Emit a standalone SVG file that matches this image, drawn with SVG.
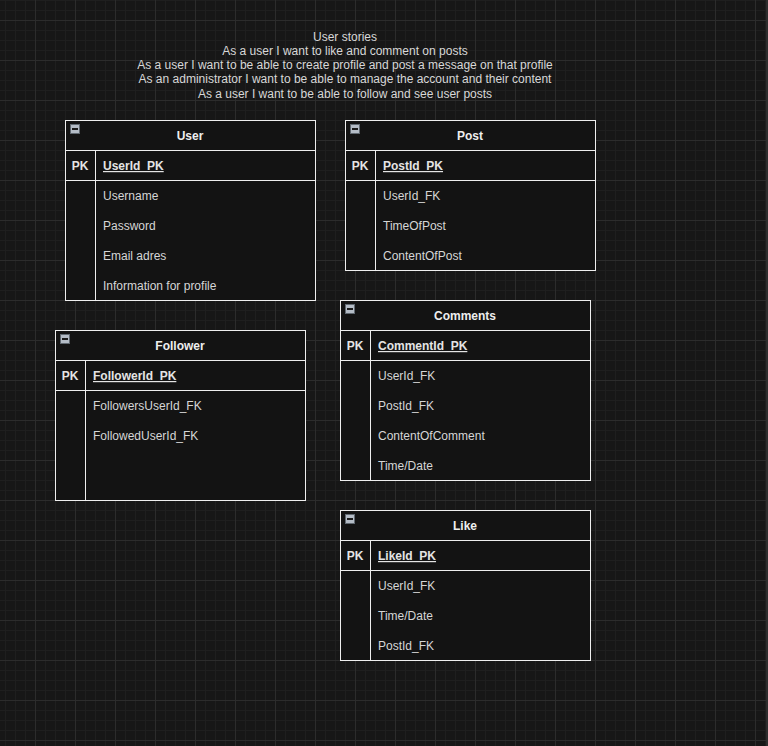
<svg xmlns="http://www.w3.org/2000/svg" width="768" height="746" viewBox="0 0 768 746">
<defs>
<pattern id="grid" patternUnits="userSpaceOnUse" x="35" y="20" width="40" height="40">
<rect width="40" height="40" fill="#171717"/>
<path d="M10.5 0V40M20.5 0V40M30.5 0V40M0 10.5H40M0 20.5H40M0 30.5H40" stroke="#1f1f1f" stroke-width="1"/>
<path d="M0.5 0V40M0 0.5H40" stroke="#2c2c2c" stroke-width="1"/>
</pattern>
<g id="toggle">
<rect x="0.5" y="0.5" width="9" height="9" fill="#b4bcc6" stroke="#606870" stroke-width="1"/>
<rect x="2" y="4" width="6" height="2" fill="#1a1a1a"/>
</g>
</defs>
<style>
.box{fill:#131313;stroke:#eeeeee;stroke-width:1}
.ln{stroke:#eeeeee;stroke-width:1;fill:none}
text{font-family:"Liberation Sans",Arial,sans-serif;font-size:12px}
.hd{fill:#eeeeee;font-weight:bold;text-anchor:middle}
.pk{fill:#e4e4e4;font-weight:bold;text-anchor:middle}
.pkn{fill:#e4e4e4;font-weight:bold;text-decoration:underline}
.fd{fill:#d6d6d6}
.story{fill:#d8d8d8;text-anchor:middle}
</style>
<rect width="768" height="746" fill="url(#grid)"/>
<rect x="766" y="0" width="2" height="746" fill="#2e2e2e"/>

<g id="stories">
<text class="story" x="345" y="41">User stories</text>
<text class="story" x="345" y="55">As a user I want to like and comment on posts</text>
<text class="story" x="345" y="69">As a user I want to be able to create profile and post a message on that profile</text>
<text class="story" x="345" y="83">As an administrator I want to be able to manage the account and their content</text>
<text class="story" x="345" y="98">As a user I want to be able to follow and see user posts</text>
</g>

<g id="user">
<rect class="box" x="65.5" y="120.5" width="250" height="180"/>
<path class="ln" d="M65.5 150.5H315.5M65.5 180.5H315.5M95.5 150.5V300.5"/>
<use href="#toggle" x="70" y="124"/>
<text class="hd" x="190" y="140">User</text>
<text class="pk" x="80" y="170">PK</text>
<text class="pkn" x="103" y="170">UserId_PK</text>
<text class="fd" x="103" y="200">Username</text>
<text class="fd" x="103" y="230">Password</text>
<text class="fd" x="103" y="260">Email adres</text>
<text class="fd" x="103" y="290">Information for profile</text>
</g>

<g id="post">
<rect class="box" x="345.5" y="120.5" width="250" height="150"/>
<path class="ln" d="M345.5 150.5H595.5M345.5 180.5H595.5M375.5 150.5V270.5"/>
<use href="#toggle" x="350" y="124"/>
<text class="hd" x="470" y="140">Post</text>
<text class="pk" x="360" y="170">PK</text>
<text class="pkn" x="383" y="170">PostId_PK</text>
<text class="fd" x="383" y="200">UserId_FK</text>
<text class="fd" x="383" y="230">TimeOfPost</text>
<text class="fd" x="383" y="260">ContentOfPost</text>
</g>

<g id="comments">
<rect class="box" x="340.5" y="300.5" width="250" height="180"/>
<path class="ln" d="M340.5 330.5H590.5M340.5 360.5H590.5M370.5 330.5V480.5"/>
<use href="#toggle" x="345" y="304"/>
<text class="hd" x="465" y="320">Comments</text>
<text class="pk" x="355" y="350">PK</text>
<text class="pkn" x="378" y="350">CommentId_PK</text>
<text class="fd" x="378" y="380">UserId_FK</text>
<text class="fd" x="378" y="410">PostId_FK</text>
<text class="fd" x="378" y="440">ContentOfComment</text>
<text class="fd" x="378" y="470">Time/Date</text>
</g>

<g id="follower">
<rect class="box" x="55.5" y="330.5" width="250" height="170"/>
<path class="ln" d="M55.5 360.5H305.5M55.5 390.5H305.5M85.5 360.5V500.5"/>
<use href="#toggle" x="60" y="334"/>
<text class="hd" x="180" y="350">Follower</text>
<text class="pk" x="70" y="380">PK</text>
<text class="pkn" x="93" y="380">FollowerId_PK</text>
<text class="fd" x="93" y="410">FollowersUserId_FK</text>
<text class="fd" x="93" y="440">FollowedUserId_FK</text>
</g>

<g id="like">
<rect class="box" x="340.5" y="510.5" width="250" height="150"/>
<path class="ln" d="M340.5 540.5H590.5M340.5 570.5H590.5M370.5 540.5V660.5"/>
<use href="#toggle" x="345" y="514"/>
<text class="hd" x="465" y="530">Like</text>
<text class="pk" x="355" y="560">PK</text>
<text class="pkn" x="378" y="560">LikeId_PK</text>
<text class="fd" x="378" y="590">UserId_FK</text>
<text class="fd" x="378" y="620">Time/Date</text>
<text class="fd" x="378" y="650">PostId_FK</text>
</g>

<g id="connectors"></g>
</svg>
